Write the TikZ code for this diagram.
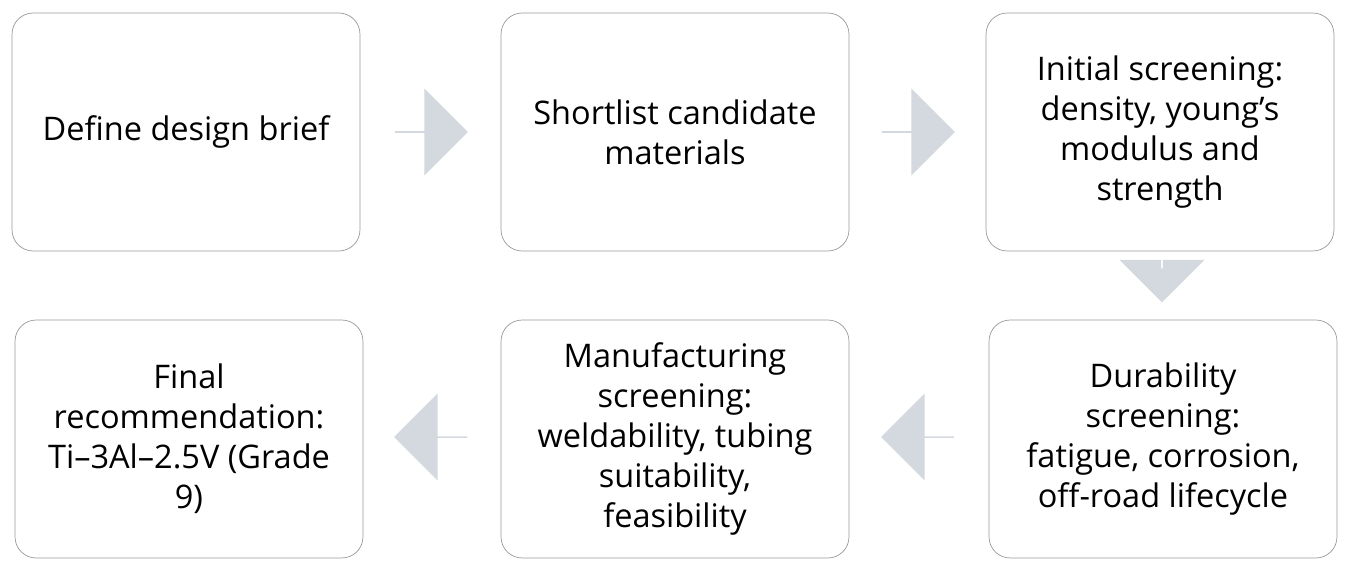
\documentclass[tikz,border=0pt]{standalone}
\usepackage{fontspec}
\setmainfont{Open Sans}
\usetikzlibrary{shapes.arrows, positioning}
\definecolor{arrowgray}{HTML}{D3D9DE}
\definecolor{boxline}{HTML}{9A9A9A}

\begin{document}
\begin{tikzpicture}[x=0.02cm, y=-0.02cm, font=\fontsize{18.5}{22.7}\selectfont]
		\tikzstyle{stage} = [draw=boxline, rounded corners=12pt, minimum width=6.96cm, minimum height=4.76cm, align=center, fill=white]
		\tikzstyle{flow} = [single arrow, fill=arrowgray, draw=none, minimum height=1.46cm, minimum width=1.74cm, single arrow head extend=0.4cm, single arrow tip angle=90, inner sep=0pt]
		
		\useasboundingbox (0,0) rectangle (1353,571);
		
		\node[stage]	at (186, 132)	(s1)	{Define design brief};
		\node[stage]	at (675, 132)	(s2)	{Shortlist candidate\\materials};
		\node[stage]	at (1160, 132)	(s3)	{Initial screening:\\density, young’s\\modulus and\\strength};
		
		\node[stage]	at (1163, 439)	(s4)	{Durability\\screening:\\fatigue, corrosion,\\off-road lifecycle};
		\node[stage]	at (675, 439)	(s5)	{Manufacturing\\screening:\\weldability, tubing\\suitability,\\feasibility};
		\node[stage]	at (189, 439)	(s6)	{Final\\recommendation:\\Ti–3Al–2.5V (Grade\\9)};
		
		\node[flow]	at (431, 132)	(a1)	{};
		\node[flow]	at (918, 132)	(a2)	{};
		\node[flow, rotate=-90, minimum height=0.68cm, minimum width=1.7cm, single arrow head extend=0.3cm]	at (1162, 285)	(a3)	{};
		\node[flow, rotate=180]	at (918, 437)	(a4)	{};
		\node[flow, rotate=180]	at (431, 437)	(a5)	{};
	\end{tikzpicture}
\end{document}
